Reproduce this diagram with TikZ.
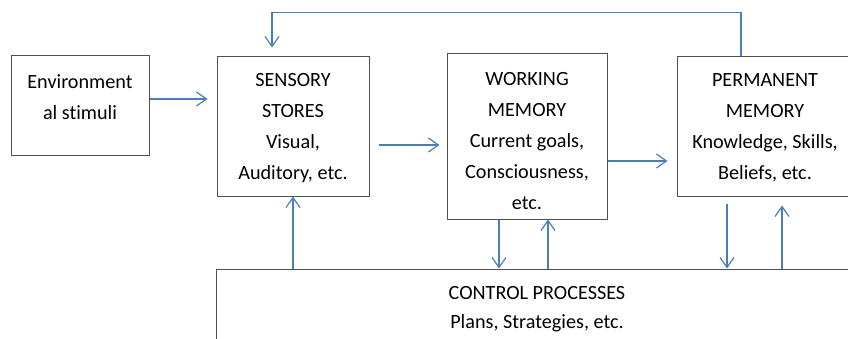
\documentclass[tikz,border=0pt]{standalone}
\usepackage{fontspec}
\setmainfont{Carlito}[Ligatures=NoCommon]
\usetikzlibrary{arrows.meta}
\definecolor{arrblue}{HTML}{4A7EBB}
\definecolor{boxgray}{HTML}{505050}
\tikzset{
  box/.style={draw=boxgray, line width=1pt, inner sep=0pt, fill=none},
  txt/.style={align=center, inner sep=0pt, font=\fontsize{20.2}{31}\selectfont, text=black},
  arr/.style={draw=arrblue, line width=1.2pt, -{Straight Barb[length=10pt,width=14pt]}}
}
\begin{document}
\begin{tikzpicture}[x=1pt,y=-1pt]
\useasboundingbox (0,0) rectangle (848,338);
% boxes
\node[box, minimum width=138, minimum height=100] (env) at (80,105) {};
\node[box, minimum width=152, minimum height=140] (sens) at (293,126) {};
\node[box, minimum width=160, minimum height=166] (work) at (527,136) {};
\node[box, minimum width=176, minimum height=140] (perm) at (765,126) {};
\node[box, minimum width=644, minimum height=90] (ctrl) at (538,314) {};
% texts
\node[txt] (envt) at (80,97) {Environment\\al stimuli};
\node[txt] (senst) at (293,128) {SENSORY\\STORES\\Visual,\\Auditory, etc.};
\node[txt] (workt) at (527,141.5) {WORKING\\MEMORY\\Current goals,\\Consciousness,\\etc.};
\node[txt] (permt) at (765,127.5) {PERMANENT\\MEMORY\\Knowledge, Skills,\\Beliefs, etc.};
\node[txt, font=\fontsize{20.2}{29}\selectfont] (ctrlt) at (537,309.5) {CONTROL PROCESSES\\Plans, Strategies, etc.};
% horizontal arrows
\draw[arr, shorten >=9pt] ([yshift=6pt]env.east) -- ([yshift=6pt]env.east -| sens.west);
\draw[arr, shorten <=9pt, shorten >=7pt] ([yshift=-19pt]sens.east) -- ([yshift=-19pt]sens.east -| work.west);
\draw[arr, shorten >=9pt] ([yshift=-25pt]work.east) -- ([yshift=-25pt]work.east -| perm.west);
% feedback
\draw[arr, shorten >=8pt] ([xshift=-24pt]perm.north) -- ++(0,-43) -| ([xshift=-21pt]sens.north);
% verticals
\draw[arr] (ctrl.north -| sens.south) -- (sens.south);
\draw[arr] ([xshift=-28pt]work.south) -- ([xshift=-28pt]work.south |- ctrl.north);
\draw[arr] ([xshift=21pt]work.south |- ctrl.north) -- ([xshift=21pt]work.south);
\draw[arr, shorten <=7pt] ([xshift=-38pt]perm.south) -- ([xshift=-38pt]perm.south |- ctrl.north);
\draw[arr, shorten >=9pt] ([xshift=17pt]perm.south |- ctrl.north) -- ([xshift=17pt]perm.south);
\end{tikzpicture}
\end{document}
